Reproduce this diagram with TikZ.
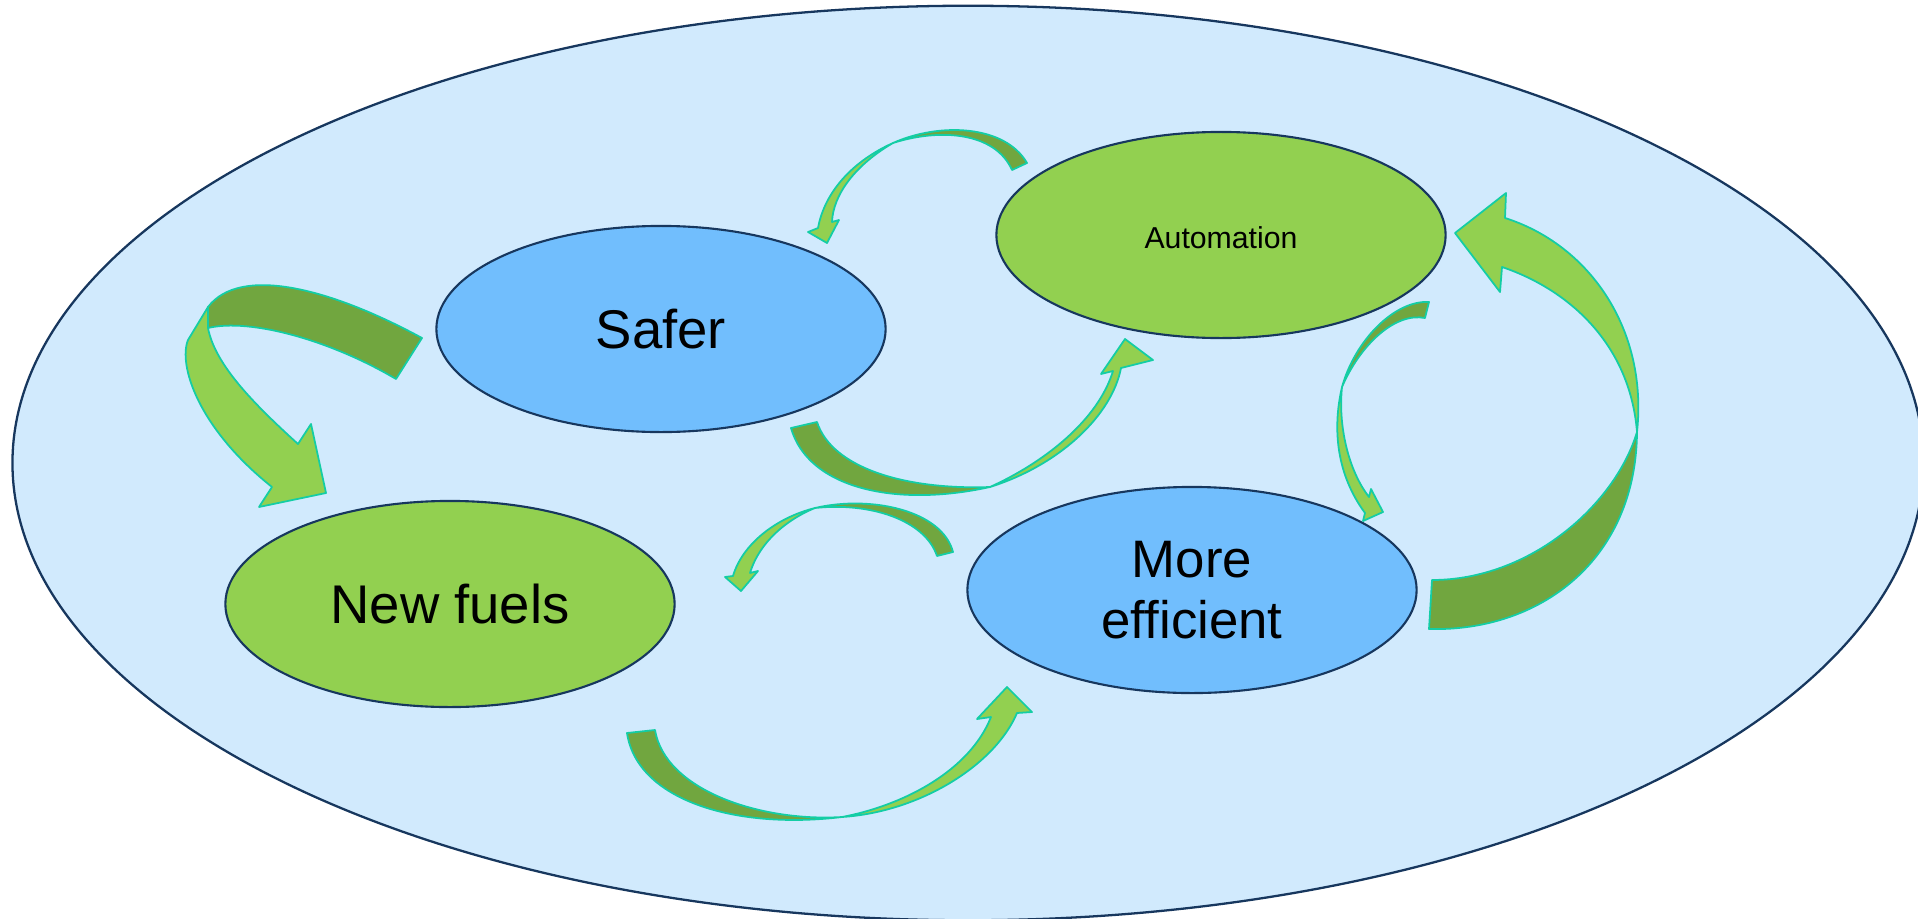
\documentclass[tikz,border=0pt]{standalone}
\usepackage{fontspec}
\setmainfont{Liberation Sans}
\usepackage{tikz}
\usetikzlibrary{shapes}
\definecolor{sky}{RGB}{209,234,253}
\definecolor{navyline}{RGB}{23,55,94}
\definecolor{nodeblue}{RGB}{113,190,253}
\definecolor{nodegreen}{RGB}{146,208,80}
\definecolor{leafdark}{RGB}{113,166,63}
\definecolor{leafline}{RGB}{20,205,165}

\begin{document}
\begin{tikzpicture}[x=0.01cm,y=-0.01cm]
				\tikzstyle{bubble}=[ellipse,draw=navyline,line width=0.6pt,minimum width=4.49cm,minimum height=2.06cm,inner sep=0pt,align=center]
				\tikzstyle{bubbleblue}=[bubble,fill=nodeblue]
				\tikzstyle{bubblegreen}=[bubble,fill=nodegreen]
				\tikzstyle{back}=[fill=leafdark,draw=leafline,line width=0.5pt,line join=round]
				\tikzstyle{front}=[fill=nodegreen,draw=leafline,line width=0.5pt,line join=round]
				\tikzstyle{big}=[font=\fontsize{15.5}{17.5}\selectfont]

				\useasboundingbox (0,0) rectangle (1918,918);
				\clip (0,0) rectangle (1918,918);
				%% Background
				\draw [fill=sky,draw=navyline,line width=0.65pt] (968,463) ellipse [x radius=9.55cm, y radius=4.57cm];

				%% Bubbles
				\node [bubbleblue,big] (safer) at (661,329) {Safer};
				\node [bubblegreen,font=\fontsize{8.6}{10}\selectfont,text height=0.266cm] (automation) at (1221,235) {Automation};
				\node [bubblegreen,big] (newfuels) at (450,604) {New fuels};
				\node [bubbleblue,font=\fontsize{15}{17.5}\selectfont] (efficient) at (1192,590) {More\\efficient};

				%% Safer -> New fuels
				\filldraw [back] (422,338) .. controls (330,288) and (240,265) .. (208,307) -- (208,328)
				    .. controls (250,318) and (330,340) .. (396,379) -- cycle;
				\filldraw [front] (208,307) -- (188,340) .. controls (178,365) and (198,428) .. (272,487)
				    -- (259,507) -- (326,493) -- (311,424) -- (298,444)
				    .. controls (255,405) and (215,365) .. (208,328) -- cycle;

				%% Automation -> Safer
				\filldraw [back] (1027,163) .. controls (1005,125) and (940,122) .. (893,143)
				    .. controls (940,128) and (995,132) .. (1012,170) -- cycle;
				\filldraw [front] (893,143) .. controls (855,160) and (825,190) .. (818,228)
				    -- (808,232) -- (827,243) -- (839,220) -- (832,222)
				    .. controls (833,195) and (855,165) .. (893,143) -- cycle;

				%% Safer -> Automation
				\filldraw [back] (791,428) .. controls (808,488) and (895,508) .. (990,487)
				    .. controls (905,490) and (832,468) .. (817,422) -- cycle;
				\filldraw [front] (990,487) .. controls (1060,465) and (1112,415) .. (1121,368)
				    -- (1153,360) -- (1125,339) -- (1101,374) -- (1113,371)
				    .. controls (1098,420) and (1045,462) .. (990,487) -- cycle;

				%% More efficient -> New fuels
				\filldraw [back] (953,552) .. controls (942,510) and (870,495) .. (815,508)
				    .. controls (870,502) and (925,520) .. (937,556) -- cycle;
				\filldraw [front] (815,508) .. controls (775,518) and (742,545) .. (733,576)
				    -- (725,577) -- (741,591) -- (758,571) -- (750,573)
				    .. controls (760,540) and (790,518) .. (815,508) -- cycle;

				%% New fuels -> More efficient
				\filldraw [back] (627,733) .. controls (637,800) and (735,830) .. (842,817)
				    .. controls (760,822) and (665,790) .. (655,730) -- cycle;
				\filldraw [front] (842,817) .. controls (920,812) and (995,765) .. (1017,713)
				    -- (1032,712) -- (1007,687) -- (977,719) -- (991,717)
				    .. controls (970,770) and (905,805) .. (842,817) -- cycle;

				%% Automation -> More efficient
				\filldraw [back] (1429,302) .. controls (1395,300) and (1355,340) .. (1342,387)
				    .. controls (1360,345) and (1395,312) .. (1425,318) -- cycle;
				\filldraw [front] (1342,387) .. controls (1332,430) and (1337,475) .. (1365,513)
				    -- (1363,521) -- (1383,512) -- (1371,489) -- (1369,497)
				    .. controls (1348,470) and (1338,425) .. (1342,387) -- cycle;

				%% More efficient -> Automation
				\filldraw [back] (1429,629) .. controls (1540,632) and (1636,560) .. (1637,432)
				    .. controls (1615,505) and (1530,580) .. (1432,580) -- cycle;
				\filldraw [front] (1637,432) .. controls (1648,330) and (1590,245) .. (1505,218)
				    -- (1506,193) -- (1455,233) -- (1500,292) -- (1502,267)
				    .. controls (1570,290) and (1630,345) .. (1637,432) -- cycle;
\end{tikzpicture}
\end{document}
